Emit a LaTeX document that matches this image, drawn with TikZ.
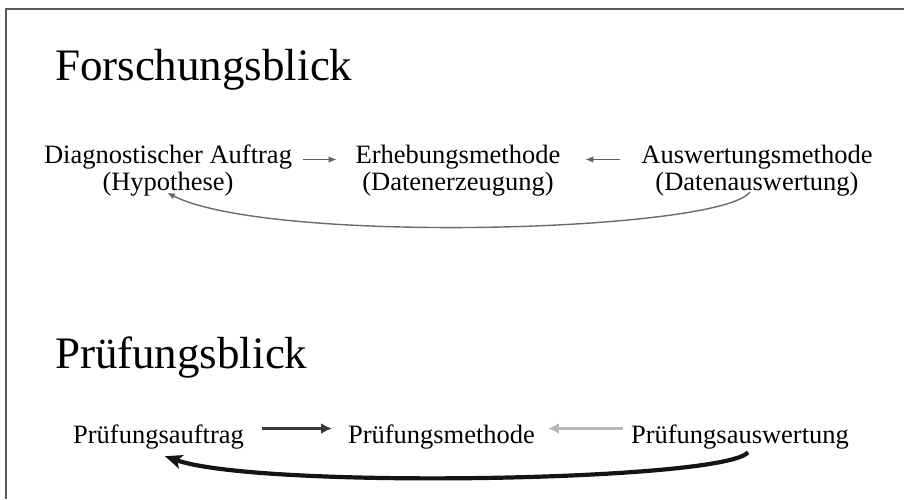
\documentclass[tikz,border=0pt]{standalone}
\usepackage{fontspec}
\setmainfont{Liberation Serif}
\usepackage{xcolor}
\usetikzlibrary{calc,arrows.meta}

\begin{document}
\begin{tikzpicture}[x=1pt,y=-1pt]
        \tikzstyle{every node}=[inner sep=0pt, outer sep=0pt]
        \tikzstyle{titel}=[anchor=base west, font=\fontsize{45}{54}\selectfont]
        \tikzstyle{feld}=[align=center, font=\fontsize{26.5}{27}\selectfont]
        \tikzstyle{duenn}=[draw=black!62, line width=1.4pt, -{Latex[length=8pt,width=6.5pt]}]
        \tikzstyle{dick}=[line width=3.8pt, -{Latex[length=11pt,width=11pt]}]
        \useasboundingbox (0,0) rectangle (904,499);
        \draw[black!65, line width=2pt] (904,9) -- (6,9) -- (6,499);

        % Forschungsblick
        \node[titel] (t1) at (55,80) {Forschungsblick};
        \node[feld] (diag) at (168,170.5) {Diagnostischer Auftrag\\(Hypothese)};
        \node[feld] (erh) at (458,170.5) {Erhebungsmethode\\(Datenerzeugung)};
        \node[feld] (ausw) at (757,170.5) {Auswertungsmethode\\(Datenauswertung)};

        \draw[duenn, shorten <=11pt, shorten >=19pt] ([yshift=11pt]diag.east) to ([yshift=11pt]erh.west);
        \draw[duenn, shorten <=21pt, shorten >=25pt] ([yshift=11pt]ausw.west) to ([yshift=11pt]erh.east);
        \coordinate (a1) at ([xshift=-7pt,yshift=4pt]ausw.south);
        \coordinate (a2) at ([xshift=-1pt,yshift=3.5pt]diag.south);
        \draw[duenn, draw=black!58] (a1) .. controls +(-30,40) and +(103,52) .. (a2);

        % Pruefungsblick
        \node[titel] (t2) at (55,368) {Prüfungsblick};
        \node[feld, anchor=base] (pauf) at (158.5,443) {Prüfungsauftrag};
        \node[feld, anchor=base] (pmeth) at (441.5,443) {Prüfungsmethode};
        \node[feld, anchor=base] (pausw) at (740,443) {Prüfungsauswertung};

        \draw[dick, draw=black!78, shorten <=18pt, shorten >=16pt] ([yshift=8pt]pauf.east) to ([yshift=8pt]pmeth.west);
        \draw[dick, draw=black!28, shorten <=8pt, shorten >=13pt] ([yshift=8pt]pausw.west) to ([yshift=8pt]pmeth.east);
        \coordinate (b1) at ([xshift=8pt,yshift=-3.5pt]pausw.south);
        \coordinate (b2) at ([xshift=6.5pt,yshift=-7.5pt]pauf.south);
        \draw[dick, draw=black!92, line width=4.2pt, -{Stealth[length=17pt,width=14pt,inset=4pt]}] (b1) .. controls +(-23,29) and +(95,33) .. (b2);
\end{tikzpicture}
\end{document}
